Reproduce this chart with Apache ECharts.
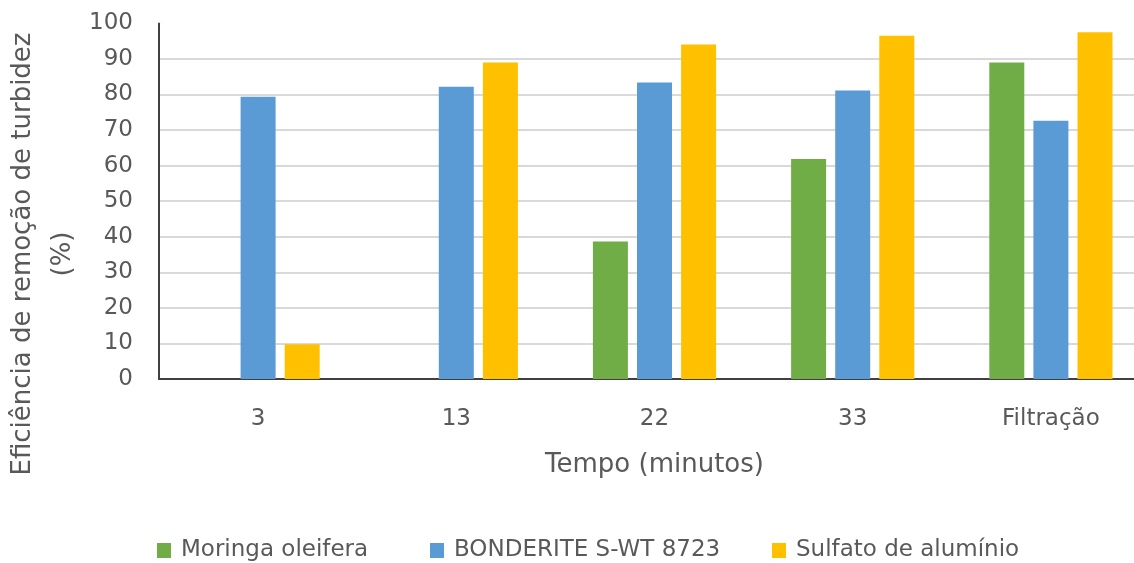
<!DOCTYPE html>
<html>
<head>
<meta charset="utf-8">
<script src="https://cdn.jsdelivr.net/npm/echarts@6/dist/echarts.min.js"></script>
<style>
  html, body { margin: 0; padding: 0; background: #ffffff; }
  #chart { width: 1134px; height: 563px; }
</style>
</head>
<body>
<div id="chart"></div>
<script>
// Turbidity removal efficiency (%) by settling time, per coagulant
const categories = ['3', '13', '22', '33', 'Filtração'];
const moringa = [null, null, 38.7, 61.9, 89.0];
const bonderite = [79.4, 82.2, 83.4, 81.1, 72.6];
const sulfato = [9.8, 89.0, 94.1, 96.5, 97.5];
const yTicks = [0, 10, 20, 30, 40, 50, 60, 70, 80, 90, 100];

const seriesNames = ['Moringa oleifera', 'BONDERITE S-WT 8723', 'Sulfato de alumínio'];
const colors = ['#70ad47', '#5b9bd5', '#ffc000'];
const FONT = 'DejaVu Sans';
const TEXT = '#595959';

const chart = echarts.init(document.getElementById('chart'), null, { renderer: 'canvas' });

// one legend block per series so each entry sits at its own spot
const legendLefts = [152, 425, 767];
const legends = seriesNames.map((name, i) => ({
  data: [name],
  left: legendLefts[i],
  top: 534,
  orient: 'horizontal',
  icon: 'rect',
  itemWidth: 14,
  itemHeight: 15,
  selectedMode: false,
  textStyle: { fontFamily: FONT, fontSize: 23, color: TEXT, padding: [0, 0, 0, 5] }
}));

// the top (100) line is left off, the others are light grey
const gridColors = yTicks.map((v) => (v === 100 ? 'rgba(0,0,0,0)' : '#d9d9d9'));

const makeSeries = (name, data, color) => ({
  name: name,
  type: 'bar',
  data: data,
  barWidth: 35,
  barGap: '26%',
  itemStyle: { color: color },
  emphasis: { disabled: true }
});

chart.setOption({
  animation: false,
  color: colors,
  legend: legends,
  // the plot runs past the right edge of the page
  grid: {
    left: 159, width: 991, top: 23.4, bottom: 184,
    containLabel: false, outerBoundsMode: 'none'
  },
  xAxis: {
    type: 'category',
    data: categories,
    axisLine: { show: true, lineStyle: { color: '#404040', width: 2 } },
    axisTick: { show: false },
    axisLabel: { fontFamily: FONT, fontSize: 23, color: TEXT, margin: 29 },
    name: 'Tempo (minutos)',
    nameLocation: 'middle',
    nameGap: 73,
    nameTextStyle: { fontFamily: FONT, fontSize: 26, color: TEXT }
  },
  yAxis: {
    type: 'value',
    min: yTicks[0],
    max: yTicks[yTicks.length - 1],
    interval: 10,
    axisLine: { show: true, lineStyle: { color: '#404040', width: 2 } },
    axisTick: { show: false },
    axisLabel: { fontFamily: FONT, fontSize: 23, color: TEXT, margin: 26 },
    splitLine: { show: true, lineStyle: { color: gridColors, width: 2 } }
  },
  graphic: [{
    type: 'text',
    x: 43,
    y: 254,
    rotation: Math.PI / 2,
    style: {
      text: 'Eficiência de remoção de turbidez\n(%)',
      font: '26px "DejaVu Sans"',
      fill: TEXT,
      textAlign: 'center',
      textVerticalAlign: 'middle',
      lineHeight: 40
    }
  }],
  series: [
    makeSeries(seriesNames[0], moringa, colors[0]),
    makeSeries(seriesNames[1], bonderite, colors[1]),
    makeSeries(seriesNames[2], sulfato, colors[2])
  ]
});
</script>
</body>
</html>
